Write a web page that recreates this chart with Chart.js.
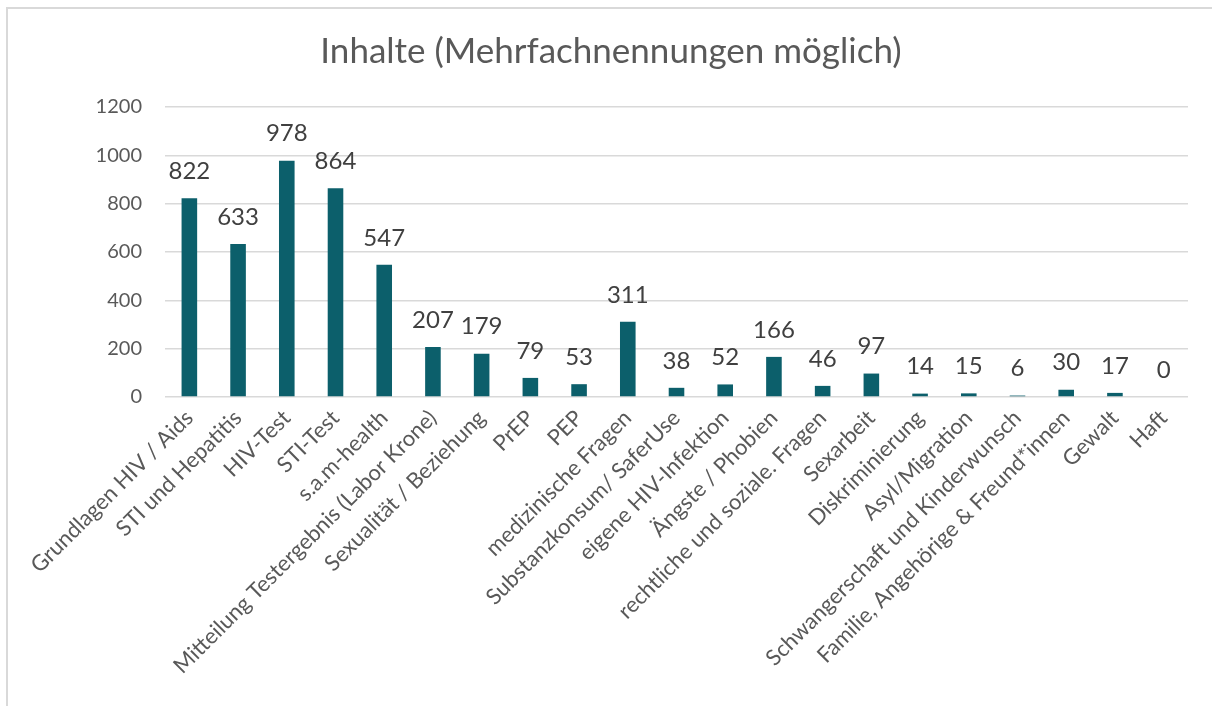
<!DOCTYPE html>
<html>
<head>
<meta charset="utf-8">
<script src="https://cdn.jsdelivr.net/npm/chart.js@4"></script>
<style>
  body { margin: 0; background: #fff; overflow: hidden; }
  #wrap { position: relative; width: 1212px; height: 706px; }
  #frame { position: absolute; left: 6px; top: 7px; width: 1230px; height: 730px; border: 2px solid #d9d9d9; box-sizing: border-box; }
  canvas { position: absolute; left: 0; top: 0; }
</style>
</head>
<body>
<div id="wrap">
  <div id="frame"></div>
  <canvas id="chart" width="1212" height="706"></canvas>
</div>
<script>
// Inhalte der Beratungen
const categories = [
  'Grundlagen HIV / Aids', 'STI und Hepatitis', 'HIV-Test', 'STI-Test', 's.a.m-health',
  'Mitteilung Testergebnis (Labor Krone)', 'Sexualität / Beziehung', 'PrEP', 'PEP',
  'medizinische Fragen', 'Substanzkonsum/ SaferUse', 'eigene HIV-Infektion', 'Ängste / Phobien',
  'rechtliche und soziale. Fragen', 'Sexarbeit', 'Diskriminierung', 'Asyl/Migration',
  'Schwangerschaft und Kinderwunsch', 'Familie, Angehörige & Freund*innen', 'Gewalt', 'Haft'
];
const counts = [822, 633, 978, 864, 547, 207, 179, 79, 53, 311, 38, 52, 166, 46, 97, 14, 15, 6, 30, 17, 0];
const yTicks = [0, 200, 400, 600, 800, 1000, 1200];

const fontFamily = 'Lato, "Open Sans", sans-serif';

// draw the value above each bar
const valueLabels = {
  id: 'valueLabels',
  afterDatasetsDraw(chart) {
    const ctx = chart.ctx;
    const meta = chart.getDatasetMeta(0);
    ctx.save();
    ctx.font = '24px ' + fontFamily;
    ctx.fillStyle = '#404040';
    ctx.textAlign = 'center';
    ctx.textBaseline = 'middle';
    meta.data.forEach(function(bar, i) {
      ctx.fillText(String(counts[i]), bar.x, bar.y - 27);
    });
    ctx.restore();
  }
};

new Chart(document.getElementById('chart').getContext('2d'), {
  type: 'bar',
  data: {
    labels: categories,
    datasets: [{
      data: counts,
      backgroundColor: '#0c5f6b',
      barPercentage: 0.32,
      categoryPercentage: 1
    }]
  },
  options: {
    responsive: false,
    animation: false,
    // left padding shifts the title centre to match the original
    layout: { padding: { left: 34, right: 24, top: 0, bottom: 0 } },
    plugins: {
      legend: { display: false },
      tooltip: { enabled: false },
      title: {
        display: true,
        text: 'Inhalte (Mehrfachnennungen möglich)',
        color: '#595959',
        font: { family: fontFamily, size: 35, weight: 'normal' },
        padding: { top: 31, bottom: 34 }
      }
    },
    scales: {
      x: {
        grid: { display: false, drawTicks: false },
        border: { display: false },
        ticks: {
          autoSkip: false,
          minRotation: 45,
          maxRotation: 45,
          padding: 8,
          color: '#595959',
          font: { family: fontFamily, size: 22 }
        },
        afterFit: function(scale) { scale.height = 309; }
      },
      y: {
        min: 0,
        max: 1200,
        grid: { color: '#d9d9d9', lineWidth: 1.5, drawTicks: false },
        border: { display: false },
        afterBuildTicks: function(scale) {
          scale.ticks = yTicks.map(function(v) { return { value: v }; });
        },
        ticks: {
          padding: 23,
          color: '#595959',
          font: { family: fontFamily, size: 20 },
          callback: function(val) { return String(val); }
        },
        afterFit: function(scale) { scale.width = 131; }
      }
    }
  },
  plugins: [valueLabels]
});
</script>
</body>
</html>
